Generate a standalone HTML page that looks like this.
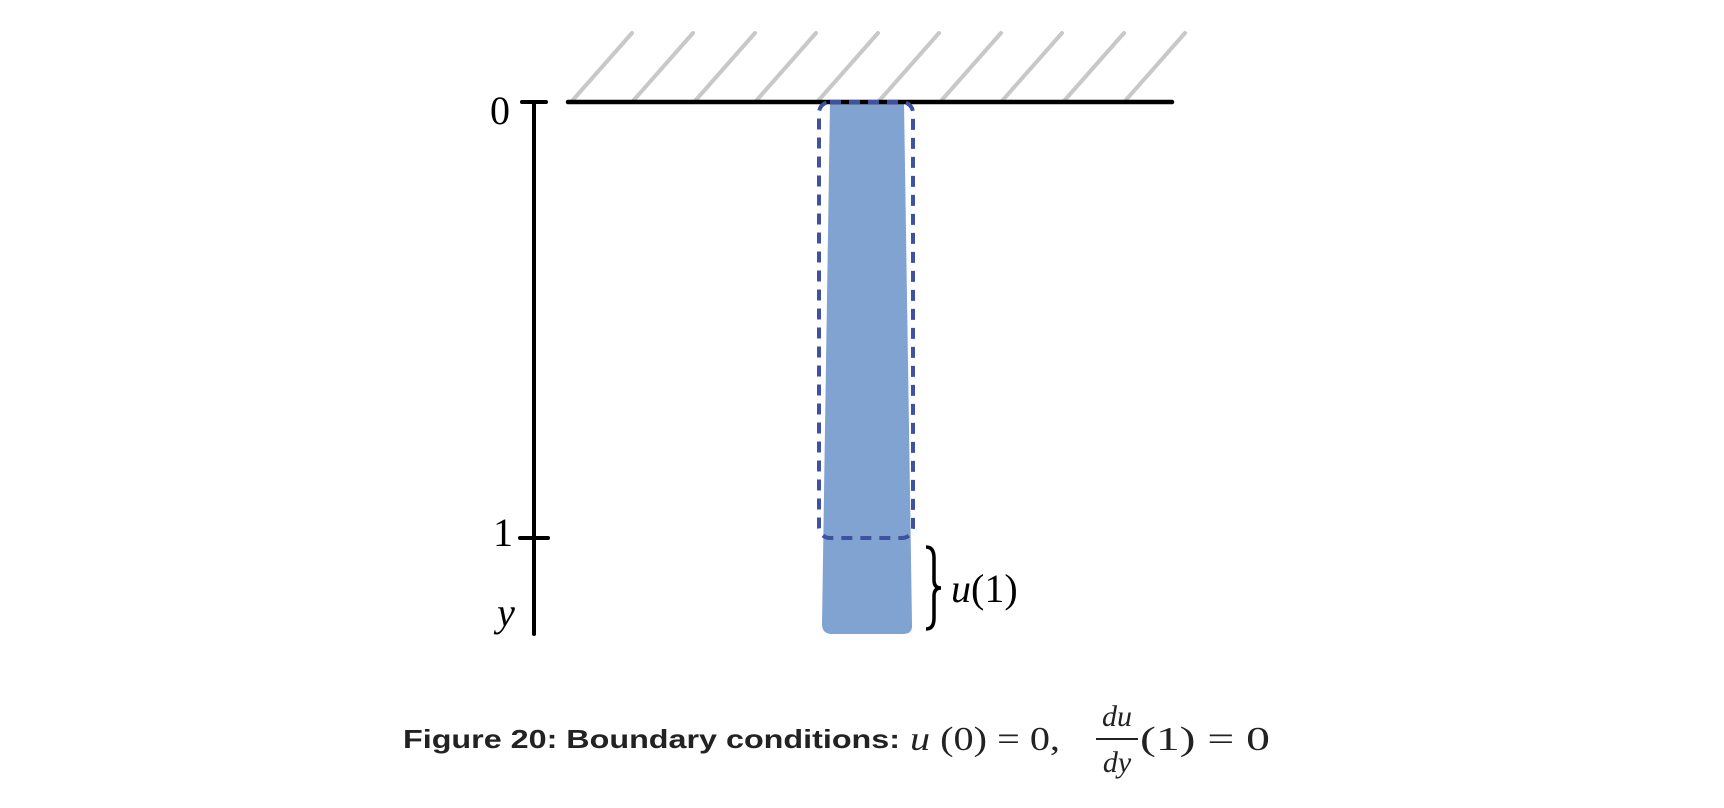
<!DOCTYPE html>
<html><head><meta charset="utf-8"><style>
html,body{margin:0;padding:0;background:#fff;}
svg{display:block}
</style></head><body>
<svg width="1724" height="808" viewBox="0 0 1724 808" xmlns="http://www.w3.org/2000/svg">
<g stroke="#c8c8c8" stroke-width="4" stroke-linecap="round">
<line x1="572" y1="101" x2="632" y2="33"/><line x1="633" y1="101" x2="693" y2="33"/>
<line x1="695" y1="101" x2="755" y2="33"/><line x1="756" y1="101" x2="816" y2="33"/>
<line x1="818" y1="101" x2="878" y2="33"/><line x1="879" y1="101" x2="939" y2="33"/>
<line x1="941" y1="101" x2="1001" y2="33"/><line x1="1002" y1="101" x2="1062" y2="33"/>
<line x1="1064" y1="101" x2="1124" y2="33"/><line x1="1125" y1="101" x2="1185" y2="33"/>
</g>
<path d="M830 102 L904 102 L912 624 Q913 634 903 634 L832 634 Q822 634 822 624 Z" fill="#80a3d2"/>
<line x1="568" y1="102" x2="1172" y2="102" stroke="#000" stroke-width="4.5" stroke-linecap="round"/>
<rect x="819" y="102" width="94" height="436" rx="11" fill="none" stroke="#3f51a3" stroke-width="4" stroke-dasharray="11 8"/>
<g stroke="#000" stroke-width="4" stroke-linecap="round">
<line x1="534" y1="102" x2="534" y2="634"/>
<line x1="522" y1="102" x2="546" y2="102"/>
<line x1="520" y1="538" x2="548" y2="538"/>
</g>
<g font-family="Liberation Serif, serif" font-size="40" fill="#000">
<text x="500" y="124" text-anchor="middle">0</text>
<text x="503" y="546" text-anchor="middle">1</text>
<text x="506" y="626" text-anchor="middle" font-style="italic">y</text>
<text x="951" y="602"><tspan font-style="italic">u</tspan>(1)</text>
</g>
<path d="M926 547 Q934 547 934 558 L934 580 Q934 588 941 588 Q934 588 934 596 L934 618 Q934 629 926 629" fill="none" stroke="#000" stroke-width="3.5"/>
<g>
<text x="403" y="748" font-family="Liberation Sans, sans-serif" font-weight="bold" font-size="26" fill="#222" textLength="497" lengthAdjust="spacingAndGlyphs">Figure 20: Boundary conditions:</text>
<g font-family="Liberation Serif, serif" font-size="34" fill="#222">
<text x="910" y="750" textLength="150" lengthAdjust="spacingAndGlyphs"><tspan font-style="italic">u</tspan> (0) = 0,</text>
<text x="1117" y="726" text-anchor="middle" font-style="italic" font-size="30">du</text>
<line x1="1096" y1="739" x2="1138" y2="739" stroke="#222" stroke-width="2"/>
<text x="1117" y="772" text-anchor="middle" font-style="italic" font-size="30">dy</text>
<text x="1140" y="750" textLength="130" lengthAdjust="spacingAndGlyphs">(1) = 0</text>
</g>
</g>
</svg>
</body></html>
